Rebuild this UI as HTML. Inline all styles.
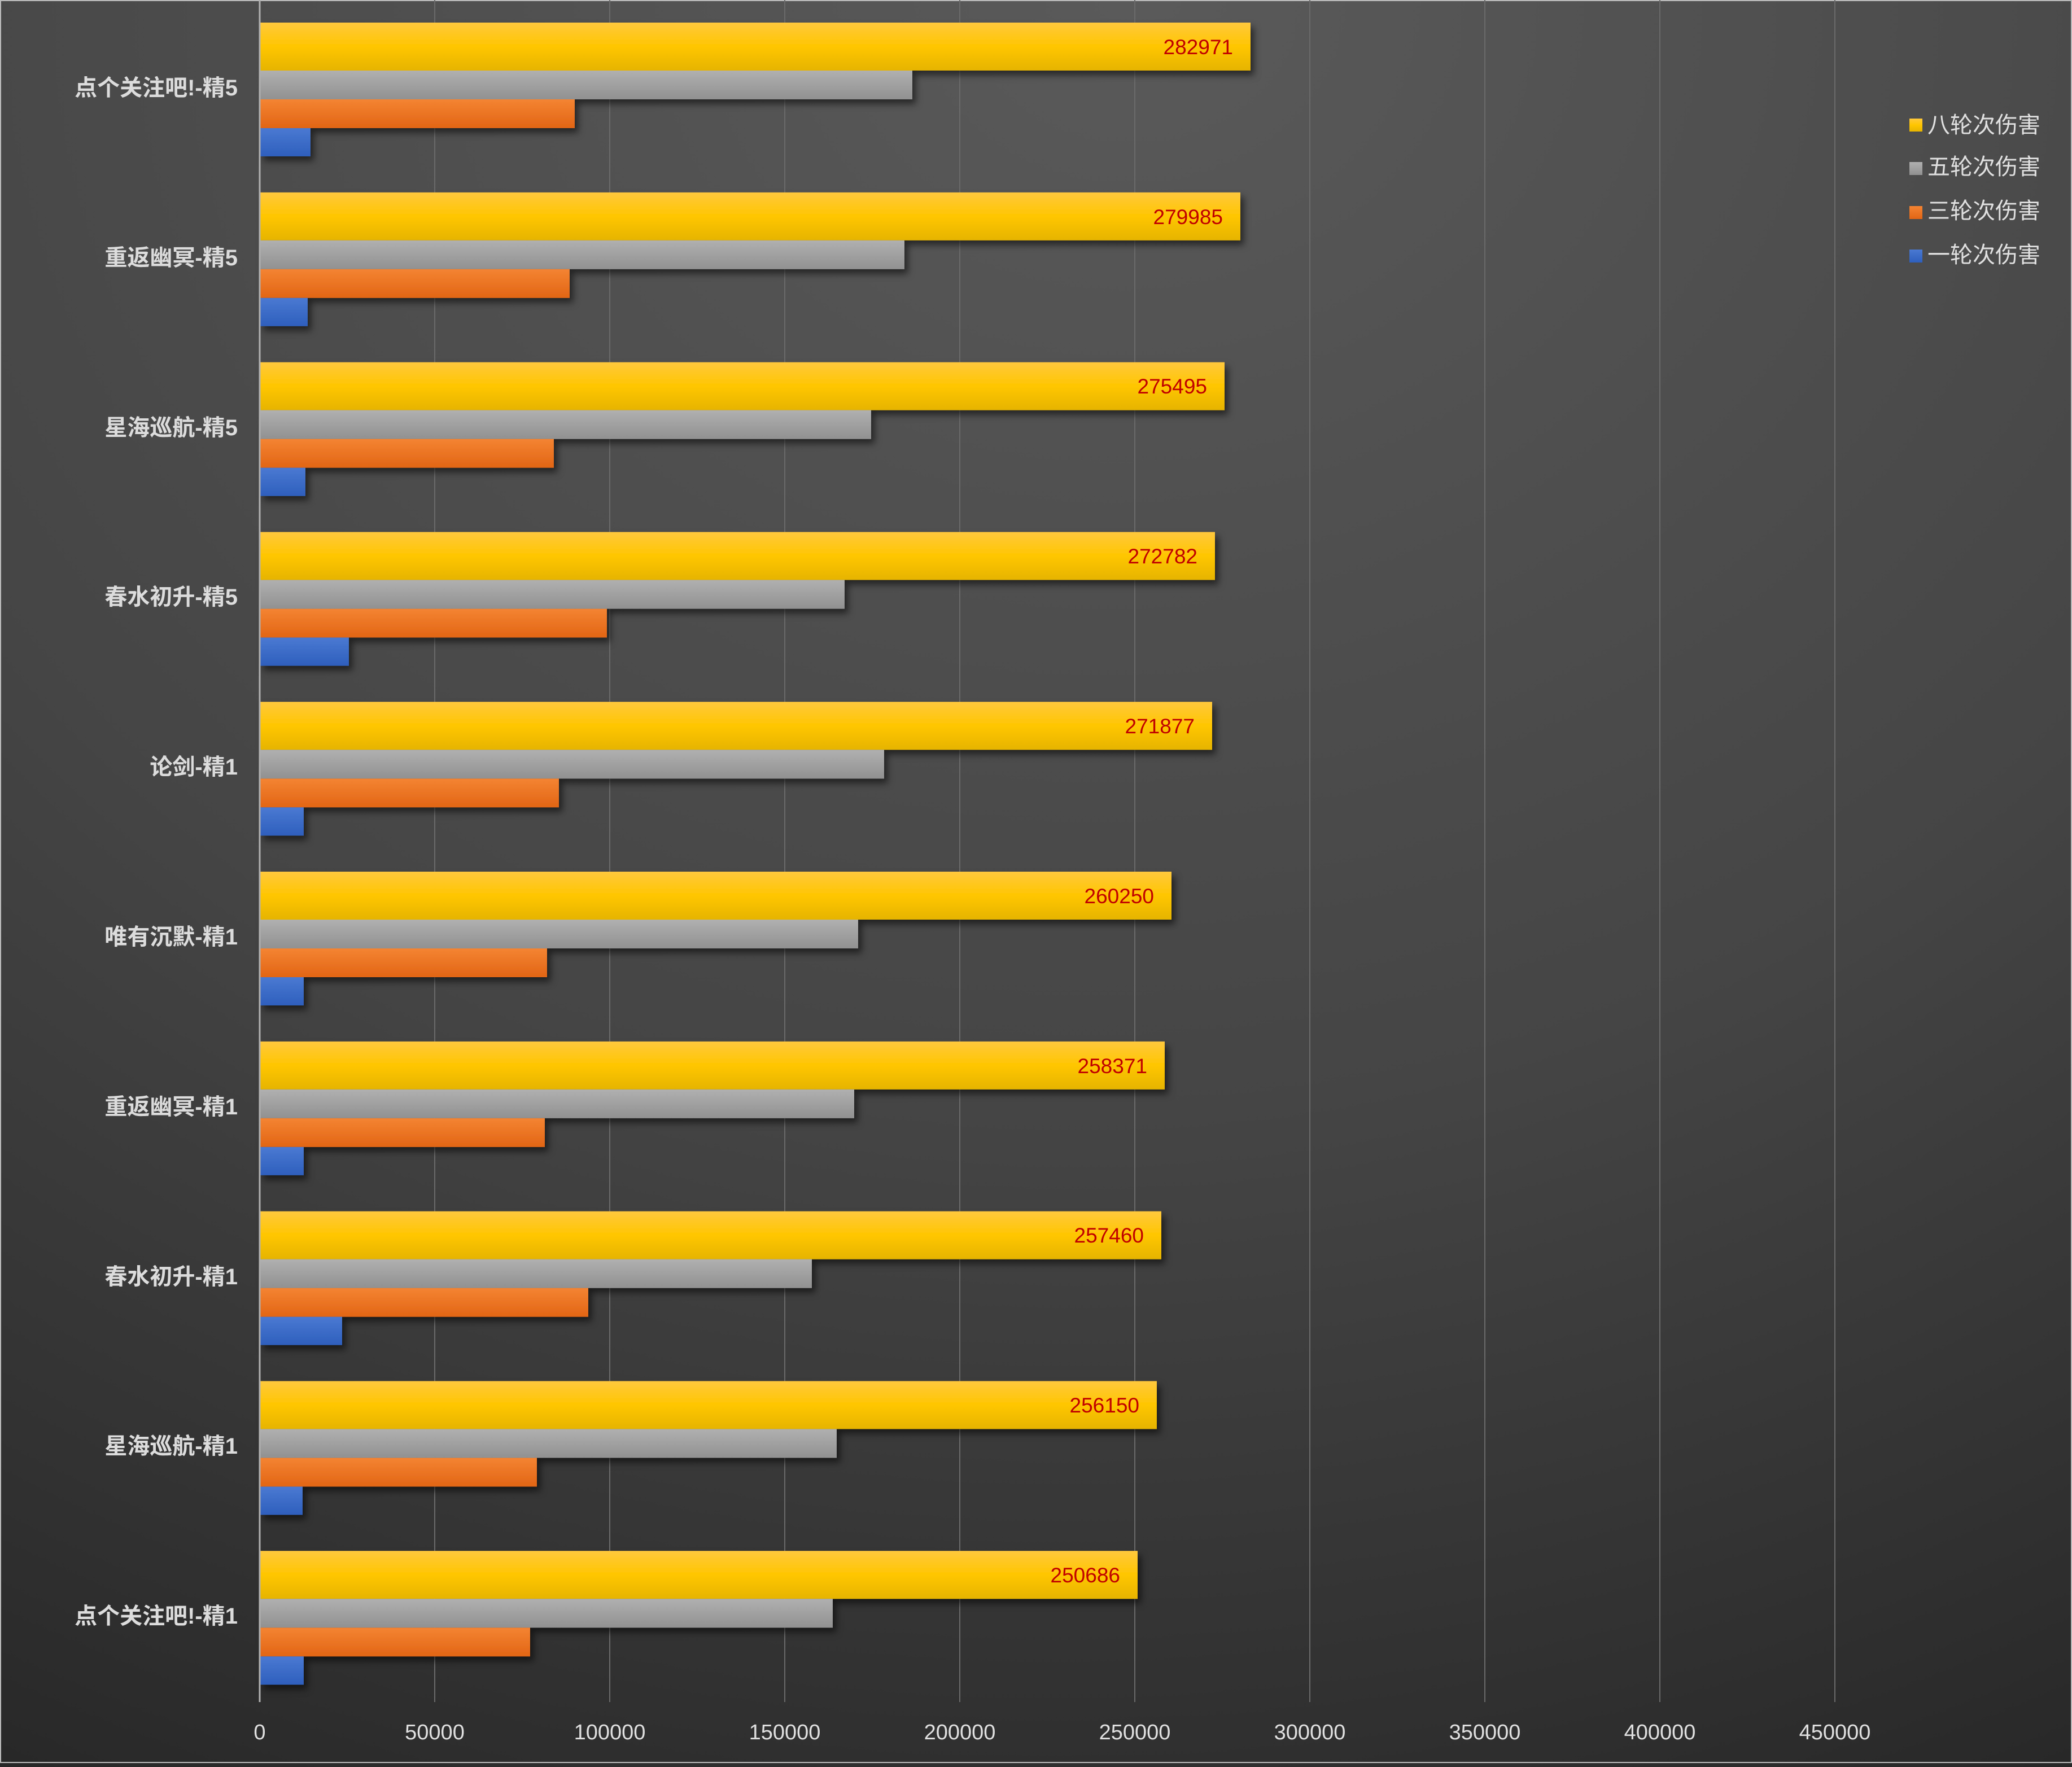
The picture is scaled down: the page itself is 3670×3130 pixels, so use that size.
<!DOCTYPE html>
<html><head><meta charset="utf-8"><style>
html,body{margin:0;padding:0;background:#333;}
svg{display:block;}
text{font-family:"Liberation Sans","Noto Sans CJK SC",sans-serif;}
</style></head><body>
<svg width="3670" height="3130" viewBox="0 0 3670 3130" xmlns="http://www.w3.org/2000/svg">
<defs>
<radialGradient id="bg" cx="0.5" cy="0" r="1.15" fx="0.55" fy="0">
<stop offset="0" stop-color="#5a5a5a"/><stop offset="0.55" stop-color="#454545"/><stop offset="1" stop-color="#262626"/></radialGradient>
<linearGradient id="gy" x1="0" y1="0" x2="0" y2="1"><stop offset="0" stop-color="#ffc83d"/><stop offset="0.5" stop-color="#ffc600"/><stop offset="1" stop-color="#e6b400"/></linearGradient>
<linearGradient id="gg" x1="0" y1="0" x2="0" y2="1"><stop offset="0" stop-color="#b0b0b0"/><stop offset="1" stop-color="#919191"/></linearGradient>
<linearGradient id="go" x1="0" y1="0" x2="0" y2="1"><stop offset="0" stop-color="#f48432"/><stop offset="1" stop-color="#e26515"/></linearGradient>
<linearGradient id="gb" x1="0" y1="0" x2="0" y2="1"><stop offset="0" stop-color="#4a79d2"/><stop offset="1" stop-color="#2e5fbd"/></linearGradient>
<filter id="sh" x="-5%" y="-20%" width="115%" height="160%"><feDropShadow dx="6" dy="8" stdDeviation="6" flood-color="#000" flood-opacity="0.55"/></filter>
</defs>
<rect width="3670" height="3130" fill="url(#bg)"/>
<rect x="1" y="1" width="3668" height="3121" fill="none" stroke="#bdbdbd" stroke-width="2"/>
<g stroke="#6a6a6a" stroke-width="2">
<line x1="770" y1="0" x2="770" y2="3015"/><line x1="1080" y1="0" x2="1080" y2="3015"/><line x1="1390" y1="0" x2="1390" y2="3015"/><line x1="1700" y1="0" x2="1700" y2="3015"/><line x1="2010" y1="0" x2="2010" y2="3015"/><line x1="2320" y1="0" x2="2320" y2="3015"/><line x1="2630" y1="0" x2="2630" y2="3015"/><line x1="2940" y1="0" x2="2940" y2="3015"/><line x1="3250" y1="0" x2="3250" y2="3015"/>
</g>
<g font-size="38" fill="#e0e0e0" text-anchor="middle">
<text x="460" y="3081">0</text><text x="770" y="3081">50000</text><text x="1080" y="3081">100000</text><text x="1390" y="3081">150000</text><text x="1700" y="3081">200000</text><text x="2010" y="3081">250000</text><text x="2320" y="3081">300000</text><text x="2630" y="3081">350000</text><text x="2940" y="3081">400000</text><text x="3250" y="3081">450000</text>
</g>
<g filter="url(#sh)">
<g transform="translate(0,40)"><rect x="461" y="0" width="1754" height="85" fill="url(#gy)"/><rect x="461" y="85" width="1155" height="51" fill="url(#gg)"/><rect x="461" y="136" width="557" height="51" fill="url(#go)"/><rect x="461" y="187" width="89" height="50" fill="url(#gb)"/></g>
<g transform="translate(0,340.8)"><rect x="461" y="0" width="1736" height="85" fill="url(#gy)"/><rect x="461" y="85" width="1141" height="51" fill="url(#gg)"/><rect x="461" y="136" width="548" height="51" fill="url(#go)"/><rect x="461" y="187" width="84" height="50" fill="url(#gb)"/></g>
<g transform="translate(0,641.6)"><rect x="461" y="0" width="1708" height="85" fill="url(#gy)"/><rect x="461" y="85" width="1082" height="51" fill="url(#gg)"/><rect x="461" y="136" width="520" height="51" fill="url(#go)"/><rect x="461" y="187" width="80" height="50" fill="url(#gb)"/></g>
<g transform="translate(0,942.4)"><rect x="461" y="0" width="1691" height="85" fill="url(#gy)"/><rect x="461" y="85" width="1035" height="51" fill="url(#gg)"/><rect x="461" y="136" width="614" height="51" fill="url(#go)"/><rect x="461" y="187" width="157" height="50" fill="url(#gb)"/></g>
<g transform="translate(0,1243.2)"><rect x="461" y="0" width="1686" height="85" fill="url(#gy)"/><rect x="461" y="85" width="1105" height="51" fill="url(#gg)"/><rect x="461" y="136" width="529" height="51" fill="url(#go)"/><rect x="461" y="187" width="77" height="50" fill="url(#gb)"/></g>
<g transform="translate(0,1544)"><rect x="461" y="0" width="1614" height="85" fill="url(#gy)"/><rect x="461" y="85" width="1059" height="51" fill="url(#gg)"/><rect x="461" y="136" width="508" height="51" fill="url(#go)"/><rect x="461" y="187" width="77" height="50" fill="url(#gb)"/></g>
<g transform="translate(0,1844.8)"><rect x="461" y="0" width="1602" height="85" fill="url(#gy)"/><rect x="461" y="85" width="1052" height="51" fill="url(#gg)"/><rect x="461" y="136" width="504" height="51" fill="url(#go)"/><rect x="461" y="187" width="77" height="50" fill="url(#gb)"/></g>
<g transform="translate(0,2145.6)"><rect x="461" y="0" width="1596" height="85" fill="url(#gy)"/><rect x="461" y="85" width="977" height="51" fill="url(#gg)"/><rect x="461" y="136" width="581" height="51" fill="url(#go)"/><rect x="461" y="187" width="145" height="50" fill="url(#gb)"/></g>
<g transform="translate(0,2446.4)"><rect x="461" y="0" width="1588" height="85" fill="url(#gy)"/><rect x="461" y="85" width="1021" height="51" fill="url(#gg)"/><rect x="461" y="136" width="490" height="51" fill="url(#go)"/><rect x="461" y="187" width="75" height="50" fill="url(#gb)"/></g>
<g transform="translate(0,2747.2)"><rect x="461" y="0" width="1554" height="85" fill="url(#gy)"/><rect x="461" y="85" width="1014" height="51" fill="url(#gg)"/><rect x="461" y="136" width="478" height="51" fill="url(#go)"/><rect x="461" y="187" width="77" height="50" fill="url(#gb)"/></g>
</g>
<line x1="460" y1="0" x2="460" y2="3015" stroke="#b0b0b0" stroke-width="3"/>
<g font-size="37" fill="#c00000" text-anchor="end">
<text x="2184" y="96">282971</text>
<text x="2166" y="397">279985</text>
<text x="2138" y="697">275495</text>
<text x="2121" y="998">272782</text>
<text x="2116" y="1299">271877</text>
<text x="2044" y="1600">260250</text>
<text x="2032" y="1901">258371</text>
<text x="2026" y="2201">257460</text>
<text x="2018" y="2502">256150</text>
<text x="1984" y="2803">250686</text>
</g>
<g font-size="40" font-weight="bold" fill="#dcdcdc" text-anchor="end">
<text x="421" y="169">点个关注吧!-精5</text>
<text x="421" y="470">重返幽冥-精5</text>
<text x="421" y="771">星海巡航-精5</text>
<text x="421" y="1071">春水初升-精5</text>
<text x="421" y="1372">论剑-精1</text>
<text x="421" y="1673">唯有沉默-精1</text>
<text x="421" y="1974">重返幽冥-精1</text>
<text x="421" y="2275">春水初升-精1</text>
<text x="421" y="2575">星海巡航-精1</text>
<text x="421" y="2876">点个关注吧!-精1</text>
</g>
<g>
<rect x="3382" y="210" width="23" height="23" fill="url(#gy)"/>
<rect x="3382" y="287" width="23" height="23" fill="url(#gg)"/>
<rect x="3382" y="365" width="23" height="23" fill="url(#go)"/>
<rect x="3382" y="442" width="23" height="23" fill="url(#gb)"/>
</g>
<g font-size="40" fill="#e0e0e0">
<text x="3414" y="235">八轮次伤害</text>
<text x="3414" y="309">五轮次伤害</text>
<text x="3414" y="387">三轮次伤害</text>
<text x="3414" y="465">一轮次伤害</text>
</g>
</svg>
</body></html>
